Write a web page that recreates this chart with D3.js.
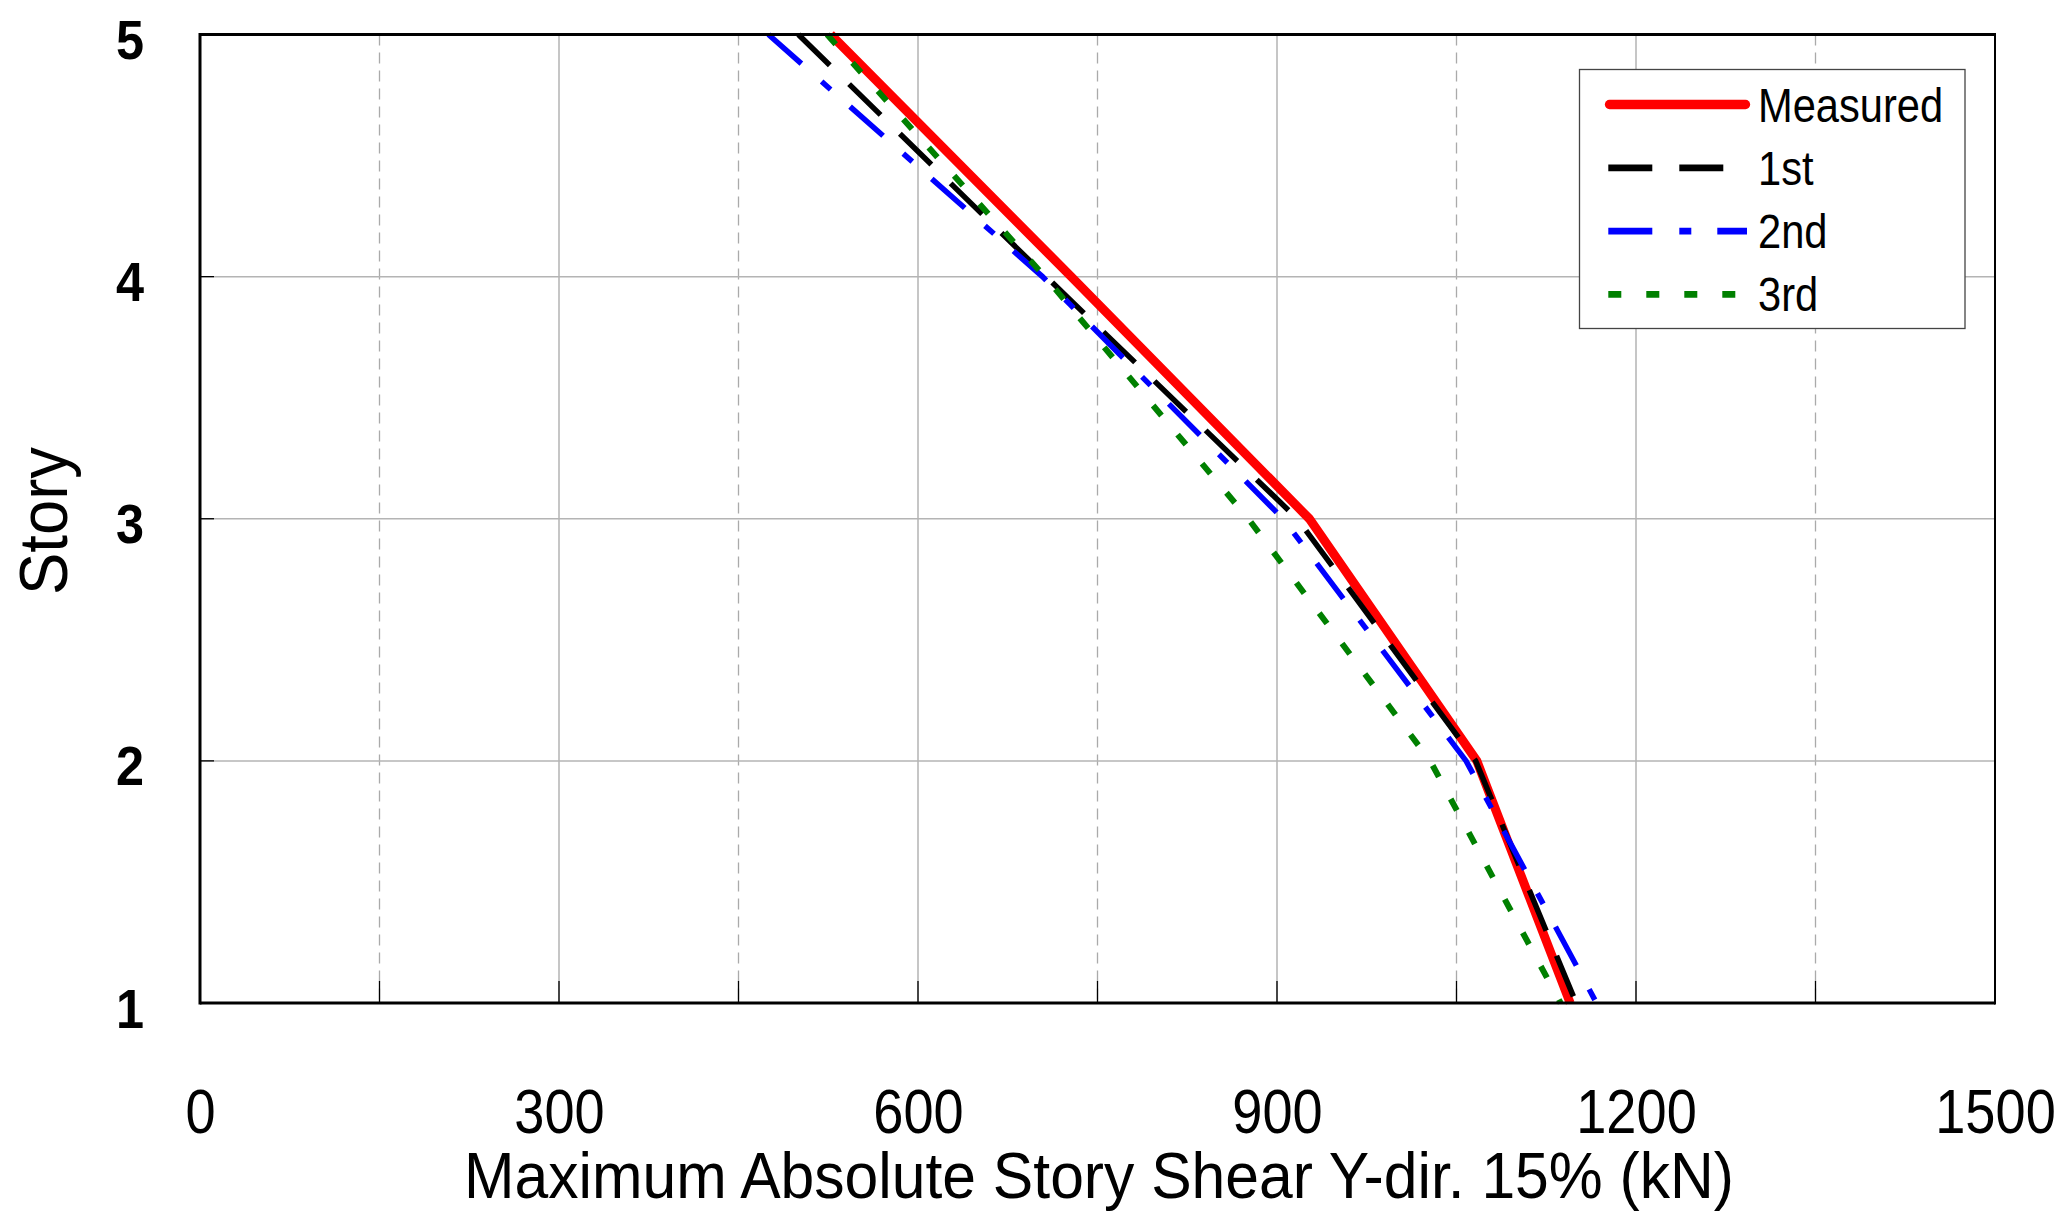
<!DOCTYPE html>
<html><head><meta charset="utf-8">
<script src="https://cdn.jsdelivr.net/npm/d3@7"></script>
<style>body{margin:0;background:#fff;overflow:hidden}</style>
</head><body><svg id="c" width="2063" height="1213"></svg>
<script>
// ---- data ----
const stories = [1, 2, 3, 4, 5];
const measured = [1145, 1067, 927, 728, 527];
const first = [1150, 1066, 917, 707, 500];
const second = [1167, 1058, 905, 704, 475];
const third = [1137, 1028, 876, 706, 524];
const xTickValues = [0, 300, 600, 900, 1200, 1500];
const xMinorValues = [150, 450, 750, 1050, 1350];
const yTickValues = [1, 2, 3, 4, 5];
const seriesNames = ["Measured", "1st", "2nd", "3rd"];
const xTitle = "Maximum Absolute Story Shear Y-dir. 15% (kN)";
const yTitle = "Story";

// ---- styles ----
const seriesData = [measured, first, second, third];
const colors = ["#ff0000", "#000000", "#0000ff", "#008000"];
const widths = [9, 5.5, 5.5, 6];
const dashes = [null, "44,27", "44,27,12,26", "13,25"];

const svg = d3.select("#c");
svg.append("rect").attr("width", 2063).attr("height", 1213).attr("fill", "#fff");

const x = d3.scaleLinear().domain([0, 1500]).range([200, 1995]);
const y = d3.scaleLinear().domain([1, 5]).range([1003, 34.5]);

// grid
const grid = svg.append("g");
grid.selectAll("line.maj").data(xTickValues.slice(1, -1)).join("line")
  .attr("x1", d => x(d)).attr("x2", d => x(d)).attr("y1", y(5)).attr("y2", y(1))
  .attr("stroke", "#a8a8a8").attr("stroke-width", 1.3);
grid.selectAll("line.min").data(xMinorValues).join("line")
  .attr("x1", d => x(d)).attr("x2", d => x(d)).attr("y1", y(5)).attr("y2", y(1))
  .attr("stroke", "#aaaaaa").attr("stroke-width", 1.3).attr("stroke-dasharray", "11,7");
grid.selectAll("line.h").data(yTickValues.slice(1, -1)).join("line")
  .attr("x1", x(0)).attr("x2", x(1500)).attr("y1", d => y(d)).attr("y2", d => y(d))
  .attr("stroke", "#b4b4b4").attr("stroke-width", 1.5);

// inner ticks
const ticks = svg.append("g");
ticks.selectAll("line.bt").data(xTickValues.concat(xMinorValues)).join("line")
  .attr("x1", d => x(d)).attr("x2", d => x(d)).attr("y1", y(1)).attr("y2", y(1) - 22)
  .attr("stroke", "#000").attr("stroke-width", 1.3);
ticks.selectAll("line.lt").data(yTickValues.slice(1, -1)).join("line")
  .attr("x1", x(0)).attr("x2", x(0) + 14).attr("y1", d => y(d)).attr("y2", d => y(d))
  .attr("stroke", "#000").attr("stroke-width", 1.3);

// series
const line = d3.line().x(d => x(d.v)).y(d => y(d.s));
seriesData.forEach((arr, i) => {
  const pts = stories.map((s, j) => ({ s: s, v: arr[j] })).reverse();
  const p = svg.append("path").datum(pts).attr("d", line)
    .attr("fill", "none").attr("stroke", colors[i]).attr("stroke-width", widths[i])
    .attr("stroke-linejoin", "miter");
  if (dashes[i]) p.attr("stroke-dasharray", dashes[i]);
});

// frame
const fr = svg.append("g").attr("stroke", "#000");
fr.append("line").attr("x1", x(0)).attr("x2", x(1500)).attr("y1", y(5)).attr("y2", y(5)).attr("stroke-width", 3);
fr.append("line").attr("x1", x(0)).attr("x2", x(1500)).attr("y1", y(1)).attr("y2", y(1)).attr("stroke-width", 3);
fr.append("line").attr("x1", x(0)).attr("x2", x(0)).attr("y1", y(5) - 1.5).attr("y2", y(1) + 1.5).attr("stroke-width", 3);
fr.append("line").attr("x1", x(1500)).attr("x2", x(1500)).attr("y1", y(5) - 1.5).attr("y2", y(1) + 1.5).attr("stroke-width", 2);

// x axis labels
const xAxis = d3.axisBottom(x).tickValues(xTickValues).tickSize(0).tickFormat(d3.format("d"));
const gx = svg.append("g").attr("transform", `translate(0,${y(1)})`).call(xAxis);
gx.select(".domain").remove();
gx.selectAll("text")
  .attr("y", 130).attr("dy", null)
  .attr("font-family", "'Liberation Sans', Arial, sans-serif")
  .attr("font-size", 63).attr("fill", "#000")
  .attr("transform", "scale(0.86,1)");

// y axis labels
const yAxis = d3.axisLeft(y).tickValues(yTickValues).tickSize(0).tickFormat(d3.format("d"));
const gy = svg.append("g").call(yAxis);
gy.select(".domain").remove();
gy.selectAll("text")
  .attr("x", 0).attr("dy", null).attr("y", 0)
  .attr("text-anchor", "middle")
  .attr("transform", "translate(130,24) scale(0.9,1)")
  .attr("font-family", "'Liberation Sans', Arial, sans-serif")
  .attr("font-weight", "bold").attr("font-size", 56).attr("fill", "#000");

// titles
svg.append("text").text(xTitle)
  .attr("x", 1099).attr("y", 1198).attr("text-anchor", "middle")
  .attr("font-family", "'Liberation Sans', Arial, sans-serif").attr("font-size", 65)
  .attr("textLength", 1270).attr("lengthAdjust", "spacingAndGlyphs");
svg.append("text").text(yTitle)
  .attr("transform", "translate(67,521) rotate(-90)").attr("text-anchor", "middle")
  .attr("font-family", "'Liberation Sans', Arial, sans-serif").attr("font-size", 68)
  .attr("textLength", 148).attr("lengthAdjust", "spacingAndGlyphs");

// legend
const lg = svg.append("g");
lg.append("rect").attr("x", 1579.5).attr("y", 69.5).attr("width", 385.5).attr("height", 259)
  .attr("fill", "#fff").attr("stroke", "#444").attr("stroke-width", 1.3);
seriesNames.forEach((name, i) => {
  const ly = 104.5 + i * 63.3;
  const l = lg.append("line").attr("x1", i === 0 ? 1609.5 : 1608.3).attr("x2", i === 0 ? 1745.5 : 1747)
    .attr("y1", ly).attr("y2", ly)
    .attr("stroke", colors[i]).attr("stroke-width", i === 0 ? 9.3 : 6.7)
    .attr("stroke-linecap", i === 0 ? "round" : "butt");
  if (dashes[i]) l.attr("stroke-dasharray", dashes[i]);
  lg.append("text").text(name)
    .attr("transform", `translate(1758,${ly + 17}) scale(0.85,1)`)
    .attr("font-family", "'Liberation Sans', Arial, sans-serif").attr("font-size", 49).attr("fill", "#000");
});
</script></body></html>
